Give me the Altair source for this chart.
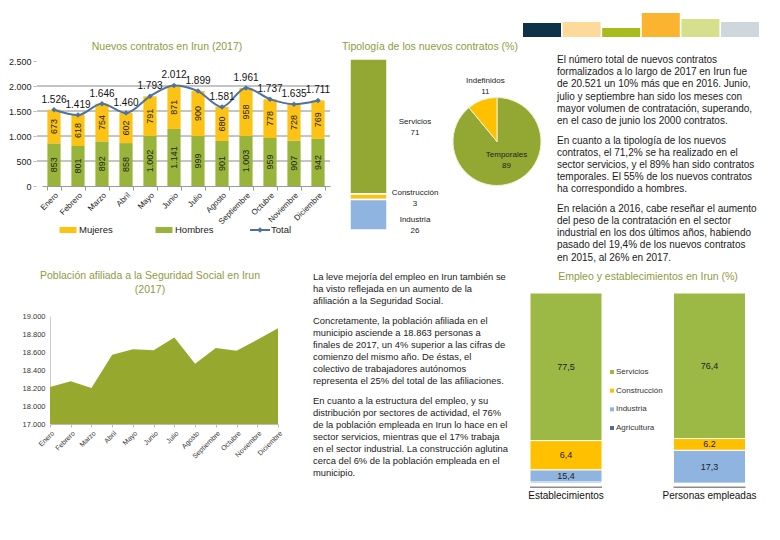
import altair as alt
import pandas as pd

# ---------------- data ----------------
meses = ["Enero", "Febrero", "Marzo", "Abril", "Mayo", "Junio", "Julio",
         "Agosto", "Septiembre", "Octubre", "Noviembre", "Diciembre"]
hombres = [853, 801, 892, 858, 1002, 1141, 999, 901, 1003, 959, 907, 942]
mujeres = [673, 618, 754, 602, 791, 871, 900, 680, 958, 778, 728, 769]
total = [1526, 1419, 1646, 1460, 1793, 2012, 1899, 1581, 1961, 1737, 1635, 1711]
contratos_ticks = [0, 500, 1000, 1500, 2000, 2500]
contratos_grid = [500, 1000, 1500, 2000]

afiliados = [18210, 18275, 18200, 18570, 18630, 18620, 18760, 18470,
             18645, 18615, 18735, 18863]
afiliados_ticks = [17800, 18000, 18200, 18400, 18600, 18800, 19000]

tipologia_sector = ["Servicios", "Construcción", "Industria"]
tipologia_pct = [71, 3, 26]
contrato_tipo = ["Temporales", "Indefinidos"]
contrato_pct = [89, 11]

empleo_grupos = ["Establecimientos", "Personas empleadas"]
empleo_sectores = ["Servicios", "Construcción", "Industria", "Agricultura"]
establecimientos_pct = [77.5, 15.4, 6.4, 0.7]          # drawn heights
establecimientos_etq = ["77,5", "6,4", "15,4", ""]      # printed labels
personas_pct = [76.4, 6.2, 17.3, 0.1]
personas_etq = ["76,4", "6.2", "17,3", ""]

cabecera_id = ["c1", "c2", "c3", "c4", "c5", "c6"]
cabecera_alto = [14, 15, 9, 24, 18, 15]
cabecera_color = ["#0e3249", "#fdd99a", "#a8bc1e", "#fbb42f", "#d6df8c", "#cdd7dc"]

texto_derecha = [
    ["El número total de nuevos contratos",
     "formalizados a lo largo de 2017 en Irun fue",
     "de 20.521 un 10% más que en 2016. Junio,",
     "julio y septiembre han sido los meses con",
     "mayor volumen de contratación, superando,",
     "en el caso de junio los 2000 contratos."],
    ["En cuanto a la tipología de los nuevos",
     "contratos, el 71,2% se ha realizado en el",
     "sector servicios, y el 89% han sido contratos",
     "temporales. El 55% de los nuevos contratos",
     "ha correspondido a hombres."],
    ["En relación a 2016, cabe reseñar el aumento",
     "del peso de la contratación en el sector",
     "industrial en los dos últimos años, habiendo",
     "pasado del 19,4% de los nuevos contratos",
     "en 2015, al 26% en 2017."],
]
texto_centro = [
    ["La leve mejoría del empleo en Irun también se",
     "ha visto reflejada en un aumento de la",
     "afiliación a la Seguridad Social."],
    ["Concretamente, la población afiliada en el",
     "municipio asciende a 18.863 personas a",
     "finales de 2017, un 4% superior a las cifras de",
     "comienzo del mismo año. De éstas, el",
     "colectivo de trabajadores autónomos",
     "representa el 25% del total de las afiliaciones."],
    ["En cuanto a la estructura del empleo, y su",
     "distribución por sectores de actividad, el 76%",
     "de la población empleada en Irun lo hace en el",
     "sector servicios, mientras que el 17% trabaja",
     "en el sector industrial. La construcción aglutina",
     "cerca del 6% de la población empleada en el",
     "municipio."],
]

# ---------------- style ----------------
FONT = "Liberation Sans"
VERDE = "#98b43a"
VERDE_PIE = "#93a833"
VERDE_AREA = "#96a82d"
VERDE_EMP = "#9cb845"
AMARILLO = "#fcc214"
AZUL_LINEA = "#4e73a0"
AZUL_CLARO = "#8fb4e0"
AZUL_OSCURO = "#4f6fa0"
TITULO = "#8f9a3f"
W, H = 764, 524
FMT = "replace(format(datum.{f}, ','), ',', '.')"

# ============ Panel 1: Nuevos contratos ============
df_con = pd.DataFrame({
    "mes": meses * 2,
    "sexo": ["Hombres"] * 12 + ["Mujeres"] * 12,
    "valor": hombres + mujeres,
    "orden": [0] * 12 + [1] * 12,
})
df_tot = pd.DataFrame({"mes": meses, "total": total})

x_mes = alt.Scale(domain=meses, range=[34, 322], paddingInner=0.45, paddingOuter=0.225)
y_con = alt.Scale(domain=[0, 2500], range=[178, 53])
col_sexo = alt.Scale(domain=["Hombres", "Mujeres"], range=[VERDE, AMARILLO])

# axes carrier (stand-alone so its axes are kept)
axes_con = alt.Chart(df_tot).mark_point(opacity=0).encode(
    x=alt.X("mes:N", scale=x_mes, axis=alt.Axis(
        orient="bottom", offset=178 - H, labelAngle=-45, labelFont=FONT,
        labelFontSize=8, labelColor="#222", tickBand="extent", tickSize=4,
        tickColor="#999", domainColor="#999", grid=False, title=None, labelPadding=1)),
    y=alt.Y("total:Q", scale=y_con, axis=alt.Axis(
        orient="left", offset=-28, values=contratos_ticks,
        labelExpr=FMT.format(f="value"), labelFont=FONT, labelFontSize=9,
        labelColor="#222", domain=False, tickSize=3, tickColor="#bbb",
        grid=False, title=None, labelPadding=2)),
)

grid_con = alt.Chart(pd.DataFrame({"v": contratos_grid})).mark_rule(
    color="#8a8a8a", strokeWidth=1).encode(
    y=alt.Y("v:Q", scale=y_con, axis=None), x=alt.value(29), x2=alt.value(322))

base_con = (alt.Chart(df_con)
            .transform_stack(stack="valor", groupby=["mes"], as_=["v0", "v1"],
                             sort=[alt.SortField("orden")])
            .transform_calculate(mid="(datum.v0 + datum.v1) / 2",
                                 lab=FMT.format(f="valor")))
bars_con = base_con.mark_bar().encode(
    x=alt.X("mes:N", scale=x_mes, axis=None),
    y=alt.Y("v0:Q", scale=y_con, axis=None),
    y2="v1:Q",
    color=alt.Color("sexo:N", scale=col_sexo, legend=None),
)
lab_con = base_con.mark_text(angle=270, font=FONT, fontSize=9, color="#222").encode(
    x=alt.X("mes:N", scale=x_mes, axis=None),
    y=alt.Y("mid:Q", scale=y_con, axis=None),
    text="lab:N",
)
line_tot = alt.Chart(df_tot).mark_line(color=AZUL_LINEA, strokeWidth=2,
                                       interpolate="monotone").encode(
    x=alt.X("mes:N", scale=x_mes, axis=None),
    y=alt.Y("total:Q", scale=y_con, axis=None))
pts_tot = alt.Chart(df_tot).mark_point(shape="diamond", filled=True, size=30,
                                       color=AZUL_LINEA, opacity=1).encode(
    x=alt.X("mes:N", scale=x_mes, axis=None),
    y=alt.Y("total:Q", scale=y_con, axis=None))
lab_tot = alt.Chart(df_tot).transform_calculate(lab=FMT.format(f="total")).mark_text(
    dy=-10, font=FONT, fontSize=10, color="#111").encode(
    x=alt.X("mes:N", scale=x_mes, axis=None),
    y=alt.Y("total:Q", scale=y_con, axis=None),
    text="lab:N")

panel_con = alt.layer(grid_con, bars_con, lab_con, line_tot, pts_tot, lab_tot)

# legend of panel 1
leg_items = ["Mujeres", "Hombres", "Total"]
df_leg = pd.DataFrame({"item": leg_items})
x_leg = alt.Scale(type="point", domain=leg_items, range=[60, 252], padding=0)
col_leg = alt.Scale(domain=leg_items, range=[AMARILLO, VERDE, AZUL_LINEA])
leg_base = alt.Chart(df_leg)
leg_rect = leg_base.transform_filter("datum.item != 'Total'").mark_point(
    shape="M-1,-0.35L1,-0.35L1,0.35L-1,0.35Z", filled=True, size=289, opacity=1).encode(
    x=alt.X("item:N", scale=x_leg, axis=None), y=alt.value(222),
    color=alt.Color("item:N", scale=col_leg, legend=None))
leg_line = leg_base.transform_filter("datum.item == 'Total'").mark_point(
    shape="M-1,0L1,0", filled=False, size=400, strokeWidth=2, opacity=1).encode(
    x=alt.X("item:N", scale=x_leg, axis=None), y=alt.value(222),
    color=alt.Color("item:N", scale=col_leg, legend=None))
leg_dia = leg_base.transform_filter("datum.item == 'Total'").mark_point(
    shape="diamond", filled=True, size=30, opacity=1).encode(
    x=alt.X("item:N", scale=x_leg, axis=None), y=alt.value(222),
    color=alt.Color("item:N", scale=col_leg, legend=None))
leg_txt = leg_base.mark_text(align="left", dx=11, font=FONT, fontSize=9.5,
                             color="#222").encode(
    x=alt.X("item:N", scale=x_leg, axis=None), y=alt.value(222), text="item:N")
panel_leg = alt.layer(leg_rect, leg_line, leg_dia, leg_txt)

# ============ Panel 2: Tipología ============
df_tip = pd.DataFrame({
    "grupo": ["Sector"] * 3,
    "sector": tipologia_sector,
    "pct": tipologia_pct,
    "orden": [2, 1, 0],
})
df_tip["etq"] = [f"{s}\n{p}" for s, p in zip(tipologia_sector, tipologia_pct)]
x_tip = alt.Scale(domain=["Sector"], range=[342, 379], paddingInner=0, paddingOuter=0)
y_tip = alt.Scale(domain=[10, 100], range=[222, 51], clamp=True)
col_tip = alt.Scale(domain=tipologia_sector, range=[VERDE_PIE, AMARILLO, AZUL_CLARO])
base_tip = (alt.Chart(df_tip)
            .transform_stack(stack="pct", groupby=["grupo"], as_=["p0", "p1"],
                             sort=[alt.SortField("orden")])
            .transform_calculate(mid="(datum.p0 + datum.p1) / 2"))
bar_tip = base_tip.mark_bar(stroke="white", strokeWidth=1.5).encode(
    x=alt.X("grupo:N", scale=x_tip, axis=None),
    y=alt.Y("p0:Q", scale=y_tip, axis=None), y2="p1:Q",
    color=alt.Color("sector:N", scale=col_tip, legend=None))
lab_tip = base_tip.mark_text(lineBreak="\n", font=FONT, fontSize=8, lineHeight=11,
                             dy=-4, color="#222").encode(
    x=alt.value(407), y=alt.Y("mid:Q", scale=y_tip, axis=None), text="etq:N")
panel_tip = alt.layer(bar_tip, lab_tip)

# pie
df_pie = pd.DataFrame({"tipo": contrato_tipo, "pct": contrato_pct, "orden": [0, 1]})
df_pie["etq"] = [f"{t}\n{p}" for t, p in zip(contrato_tipo, contrato_pct)]
col_pie = alt.Scale(domain=contrato_tipo, range=[VERDE_PIE, "#ffc000"])
theta = alt.Theta("pct:Q", stack=True)
pie_base = alt.Chart(df_pie)
pie = pie_base.mark_arc(radius=44, stroke="#f3efd0", strokeWidth=1).encode(
    theta=theta, color=alt.Color("tipo:N", scale=col_pie, legend=None),
    order=alt.Order("orden:Q"), x=alt.value(489), y=alt.value(133.5))
pie_lab1 = pie_base.mark_text(radius=58, dx=8, dy=-6, lineBreak="\n", font=FONT,
                              fontSize=8, lineHeight=11, color="#222").encode(
    theta=theta, order=alt.Order("orden:Q"), x=alt.value(489), y=alt.value(133.5),
    text=alt.condition("datum.tipo == 'Indefinidos'", "etq:N", alt.value("")))
pie_lab2 = pie_base.mark_text(radius=22, dx=2, dy=-7, lineBreak="\n", font=FONT,
                              fontSize=8, lineHeight=11, color="#222").encode(
    theta=theta, order=alt.Order("orden:Q"), x=alt.value(489), y=alt.value(133.5),
    text=alt.condition("datum.tipo == 'Temporales'", "etq:N", alt.value("")))
panel_pie = alt.layer(pie, pie_lab1, pie_lab2)

# ============ Panel 3: Afiliación ============
df_af = pd.DataFrame({"mes": meses, "afiliados": afiliados})
x_af = alt.Scale(type="point", domain=meses, range=[42, 270], padding=0)
y_af = alt.Scale(domain=[17800, 19000], range=[416, 308])
panel_af = alt.Chart(df_af).mark_area(color=VERDE_AREA, opacity=1).encode(
    x=alt.X("mes:O", scale=x_af, axis=alt.Axis(
        orient="bottom", offset=416 - H, labelAngle=-45, labelFont=FONT,
        labelFontSize=7, labelColor="#333", tickSize=3, tickColor="#bbb",
        domainColor="#bbb", grid=False, title=None, labelPadding=2)),
    y=alt.Y("afiliados:Q", scale=y_af, axis=alt.Axis(
        orient="left", offset=-42, values=afiliados_ticks,
        labelExpr="datum.value == 17800 ? '17.000' : " + FMT.format(f="value"),
        labelFont=FONT, labelFontSize=7.5, labelColor="#333", domainColor="#ccc",
        ticks=False, grid=False, title=None, labelPadding=5)),
    y2=alt.Y2Datum(17800),
)

# ============ Panel 4: Empleo y establecimientos ============
df_emp = pd.DataFrame({
    "grupo": ["Establecimientos"] * 4 + ["Personas empleadas"] * 4,
    "sector": empleo_sectores * 2,
    "pct": establecimientos_pct + personas_pct,
    "etq": establecimientos_etq + personas_etq,
    "orden": [3, 2, 1, 0] * 2,
})
x_emp = alt.Scale(domain=empleo_grupos, range=[522, 737.5], paddingInner=0.498,
                  paddingOuter=0)
y_emp = alt.Scale(domain=[0, 100], range=[475.5, 285])
col_emp = alt.Scale(domain=empleo_sectores,
                    range=[VERDE_EMP, "#ffc000", AZUL_CLARO, AZUL_OSCURO])
base_emp = (alt.Chart(df_emp)
            .transform_stack(stack="pct", groupby=["grupo"], as_=["e0", "e1"],
                             sort=[alt.SortField("orden")])
            .transform_calculate(mid="(datum.e0 + datum.e1) / 2"))
bar_emp = base_emp.mark_bar(stroke="white", strokeWidth=1).encode(
    x=alt.X("grupo:N", scale=x_emp, axis=None),
    y=alt.Y("e0:Q", scale=y_emp, axis=None), y2="e1:Q",
    color=alt.Color("sector:N", scale=col_emp, legend=None))
lab_emp = base_emp.mark_text(font=FONT, fontSize=9, color="#222").encode(
    x=alt.X("grupo:N", scale=x_emp, axis=None),
    y=alt.Y("mid:Q", scale=y_emp, axis=None), text="etq:N")
df_grp = pd.DataFrame({"grupo": empleo_grupos})
base_line = alt.Chart(df_grp).mark_bar(color="#8c8c8c").encode(
    x=alt.X("grupo:N", scale=x_emp, axis=None), y=alt.value(478.5), y2=alt.value(480))
grp_txt = alt.Chart(df_grp).mark_text(font=FONT, fontSize=10, color="#111").encode(
    x=alt.X("grupo:N", scale=x_emp, axis=None), y=alt.value(488), text="grupo:N")
panel_emp = alt.layer(bar_emp, lab_emp, base_line, grp_txt)

df_eleg = pd.DataFrame({"sector": empleo_sectores})
y_eleg = alt.Scale(type="point", domain=empleo_sectores, range=[364, 420], padding=0)
eleg_sq = alt.Chart(df_eleg).mark_square(size=16, opacity=1).encode(
    x=alt.value(604), y=alt.Y("sector:N", scale=y_eleg, axis=None),
    color=alt.Color("sector:N", scale=col_emp, legend=None))
eleg_txt = alt.Chart(df_eleg).mark_text(align="left", font=FONT, fontSize=8,
                                        color="#333").encode(
    x=alt.value(608), y=alt.Y("sector:N", scale=y_eleg, axis=None), text="sector:N")
panel_eleg = alt.layer(eleg_sq, eleg_txt)

# ============ header decoration ============
df_cab = pd.DataFrame({"id": cabecera_id, "alto": cabecera_alto})
panel_cab = alt.Chart(df_cab).mark_bar().encode(
    x=alt.X("id:N", scale=alt.Scale(domain=cabecera_id, range=[515, 751],
                                    paddingInner=0.04, paddingOuter=0), axis=None),
    y=alt.Y("alto:Q", scale=alt.Scale(domain=[0, 24], range=[29, 5]), axis=None),
    color=alt.Color("id:N", scale=alt.Scale(domain=cabecera_id, range=cabecera_color),
                    legend=None))


# ============ titles ============
def titulo(txt, x, y):
    return alt.Chart(pd.DataFrame({"t": [txt]})).mark_text(
        font=FONT, fontSize=10.5, color=TITULO).encode(
        x=alt.value(x), y=alt.value(y), text="t:N")


titles = [
    titulo("Nuevos contratos en Irun (2017)", 159, 39),
    titulo("Tipología de los nuevos contratos (%)", 422, 39),
    titulo("Población afiliada a la Seguridad Social en Irun", 142, 268),
    titulo("(2017)", 142, 282),
    titulo("Empleo y establecimientos en Irun (%)", 640, 269),
]


# ============ paragraphs ============
def parrafos(paras, x, y0, lh, gap, size):
    rows, r = [], 0.0
    for p in paras:
        for ln in p:
            rows.append({"linea": ln, "fila": r})
            r += 1
        r += gap
    return alt.Chart(pd.DataFrame(rows)).mark_text(
        align="left", baseline="middle", font=FONT, fontSize=size, color="#1a1a1a").encode(
        x=alt.value(x),
        y=alt.Y("fila:Q", scale=alt.Scale(domain=[0, 1], range=[y0, y0 + lh]), axis=None),
        text="linea:N")


txt_der = parrafos(texto_derecha, 549, 52, 12.2, 0.6, 10)
txt_cen = parrafos(texto_centro, 305, 269, 12, 0.65, 9.4)

chart = alt.layer(
    panel_cab, axes_con, panel_con, panel_leg, panel_tip, panel_pie, panel_af,
    panel_emp, panel_eleg, txt_der, txt_cen, *titles
).resolve_scale(
    x="independent", y="independent", color="independent", theta="independent"
).resolve_axis(
    x="independent", y="independent"
).properties(
    width=W, height=H, autosize=alt.AutoSizeParams(type="none"), padding=0,
    background="white"
).configure_view(strokeWidth=0)

chart.save("out.html", embed_options={"renderer": "svg", "actions": False})
